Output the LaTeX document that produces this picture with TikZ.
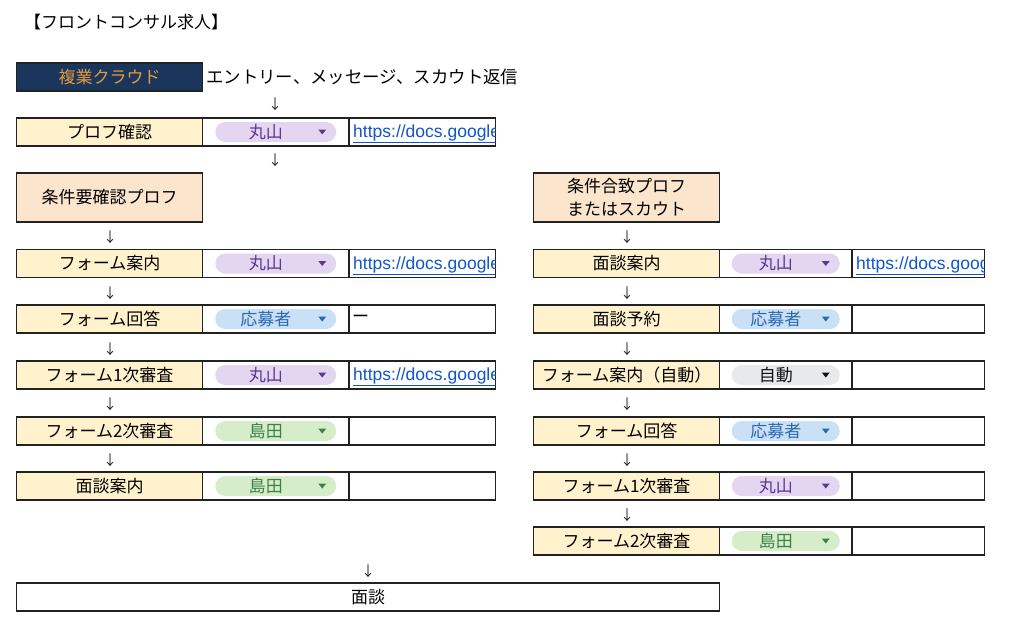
\documentclass[tikz,border=0pt]{standalone}
\usepackage{fontspec}
\setmainfont{Noto Sans CJK JP}
\newfontfamily\linkfont{Liberation Sans}
\usetikzlibrary{calc}
\definecolor{navy}{HTML}{1B365D}
\definecolor{orangetxt}{HTML}{E69A38}
\definecolor{yellowbg}{HTML}{FFF2CC}
\definecolor{peach}{HTML}{FCE5CD}
\definecolor{purplebg}{HTML}{E4D5F1}
\definecolor{purpletxt}{HTML}{5B3A8C}
\definecolor{bluebg}{HTML}{C8E1F7}
\definecolor{bluetxt}{HTML}{2F66B0}
\definecolor{greenbg}{HTML}{D6EDC9}
\definecolor{greentxt}{HTML}{3F8048}
\definecolor{graybg}{HTML}{E8E9EB}
\definecolor{graytxt}{HTML}{111111}
\definecolor{linkblue}{HTML}{1155CC}
\definecolor{border}{HTML}{222222}
\tikzset{
  cellbase/.style={draw=border, line width=1.6pt, minimum height=28pt, inner sep=0pt, outer sep=0pt, rectangle},
  labelcell/.style={cellbase, fill=yellowbg, minimum width=186pt},
  blankcell/.style={cellbase, fill=white},
  groupbox/.style={cellbase, fill=peach, minimum width=186pt, minimum height=49pt, align=center, font=\fontsize{17}{23}\selectfont},
  chip/.style={rectangle, rounded corners=10pt, minimum height=20pt, inner sep=0pt, outer sep=0pt},
  linktext/.style={inner sep=0pt, text=linkblue, font=\linkfont\fontsize{17.5}{20}\selectfont},
  arrowtxt/.style={inner sep=0pt, text=border, font=\fontsize{14}{16}\selectfont},
  plaintext/.style={inner sep=0pt, anchor=west}
}
\newcommand{\stagerow}[8]{%
  \node[labelcell, anchor=north west] (#1-a) at (#2,#3) {#5};
  \node[blankcell, minimum width=#4, anchor=north west] (#1-b) at (#1-a.north east) {};
  \node[blankcell, minimum width=#4, anchor=north west] (#1-c) at (#1-b.north east) {};
  \node[chip, fill=#6bg, minimum width=#8] (#1-p) at (#1-b.center) {};
  \node[text=#6txt, inner sep=0pt] (#1-t) at ($(#1-p.center)+(-10,0)$) {#7};
  \fill[#6txt] ($(#1-p.east)+(-18,-2.5)$) -- ++(8,0) -- ++(-4,5) -- cycle;
}
\newcommand{\linkcell}[2]{%
  \begin{scope}
    \clip (#1-c.south west) rectangle (#1-c.north east);
    \node[linktext, anchor=base west] (#1-l) at ($(#1-c.west)+(4,5.5)$) {\underline{#2}};
  \end{scope}
}
\begin{document}
\begin{tikzpicture}[x=1pt, y=-1pt, font=\fontsize{17}{20}\selectfont]
\useasboundingbox[fill=white] (0,0) rectangle (1024,627);

\node[plaintext] (title) at (24,22) {【フロントコンサル求人】};

\node[cellbase, fill=navy, text=orangetxt, minimum width=186pt, anchor=north west] (fukugyo) at (16.5,63) {複業クラウド};
\node[plaintext, font=\fontsize{17.4}{20}\selectfont] (entry) at (206,77) {エントリー、メッセージ、スカウト返信};

\node[arrowtxt] (ar0) at (275,104) {↓};
\stagerow{pf}{16.5}{118}{146.5pt}{プロフ確認}{purple}{丸山}{121pt}
\linkcell{pf}{https://docs.google.com}
\node[arrowtxt] (ar00) at (275,160) {↓};

% left column
\node[groupbox, anchor=north west] (condL) at (16.5,173) {条件要確認プロフ};
\node[arrowtxt] (arL1) at (110,237) {↓};
\stagerow{l1}{16.5}{249.5}{146.5pt}{フォーム案内}{purple}{丸山}{121pt}
\linkcell{l1}{https://docs.google.com}
\node[arrowtxt] (arL2) at (110,293) {↓};
\stagerow{l2}{16.5}{305}{146.5pt}{フォーム回答}{blue}{応募者}{121pt}
\node[plaintext] (l2-d) at ($(l2-c.west)+(3,0)$) {ー};
\node[arrowtxt] (arL3) at (110,349) {↓};
\stagerow{l3}{16.5}{361}{146.5pt}{フォーム1次審査}{purple}{丸山}{121pt}
\linkcell{l3}{https://docs.google.com}
\node[arrowtxt] (arL4) at (110,404) {↓};
\stagerow{l4}{16.5}{417}{146.5pt}{フォーム2次審査}{green}{島田}{121pt}
\node[arrowtxt] (arL5) at (110,460) {↓};
\stagerow{l5}{16.5}{472}{146.5pt}{面談案内}{green}{島田}{121pt}

% right column
\node[groupbox, anchor=north west] (condR) at (533.5,173) {条件合致プロフ\\またはスカウト};
\node[arrowtxt] (arR1) at (627,237) {↓};
\stagerow{r1}{533.5}{249.5}{132.5pt}{面談案内}{purple}{丸山}{108pt}
\linkcell{r1}{https://docs.google.com}
\node[arrowtxt] (arR2) at (627,293) {↓};
\stagerow{r2}{533.5}{305}{132.5pt}{面談予約}{blue}{応募者}{108pt}
\node[arrowtxt] (arR3) at (627,349) {↓};
\stagerow{r3}{533.5}{361}{132.5pt}{フォーム案内（自動）}{gray}{自動}{108pt}
\node[arrowtxt] (arR4) at (627,404) {↓};
\stagerow{r4}{533.5}{417}{132.5pt}{フォーム回答}{blue}{応募者}{108pt}
\node[arrowtxt] (arR5) at (627,460) {↓};
\stagerow{r5}{533.5}{472}{132.5pt}{フォーム1次審査}{purple}{丸山}{108pt}
\node[arrowtxt] (arR6) at (627,515) {↓};
\stagerow{r6}{533.5}{527}{132.5pt}{フォーム2次審査}{green}{島田}{108pt}

% bottom
\node[arrowtxt] (arB) at (368,571) {↓};
\node[blankcell, minimum width=703pt, anchor=north west] (mendan) at (16.5,583) {面談};
\end{tikzpicture}
\end{document}
